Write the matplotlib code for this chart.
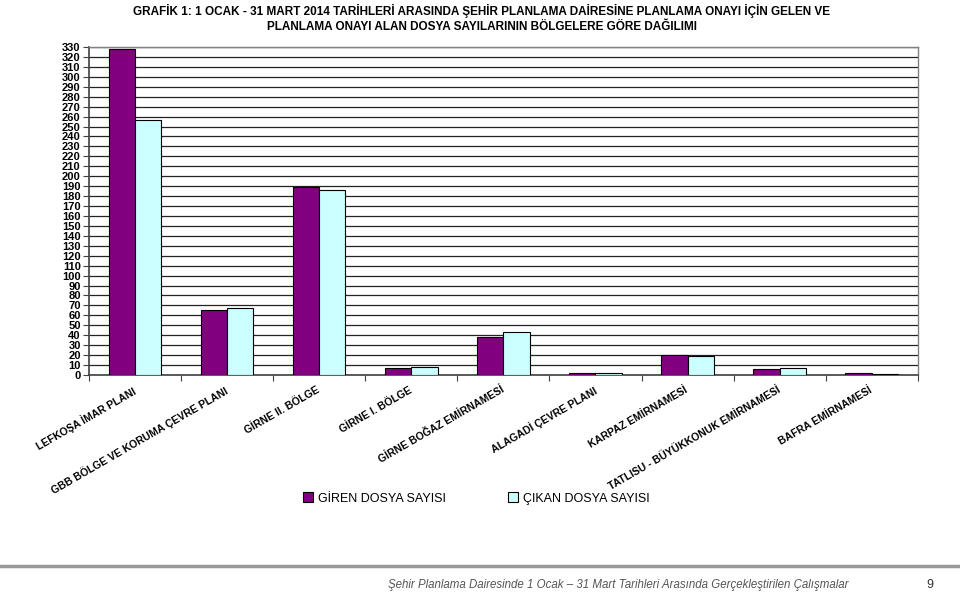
import matplotlib
matplotlib.use("Agg")
import matplotlib.pyplot as plt
import numpy as np

plt.rcParams['font.family'] = ['Liberation Sans', 'DejaVu Sans']

categories = ["LEFKOŞA İMAR PLANI", "GBB BÖLGE VE KORUMA ÇEVRE PLANI", "GİRNE II. BÖLGE",
              "GİRNE I. BÖLGE", "GİRNE BOĞAZ EMİRNAMESİ", "ALAGADİ ÇEVRE PLANI",
              "KARPAZ EMİRNAMESİ", "TATLISU - BÜYÜKKONUK EMİRNAMESİ", "BAFRA EMİRNAMESİ"]
giren = [328, 65, 189, 7, 38, 2, 20, 6, 2]
cikan = [257, 67, 186, 8, 43, 2, 19, 7, 1]
series_names = ["GİREN DOSYA SAYISI", "ÇIKAN DOSYA SAYISI"]
yticks = list(range(0, 331, 10))

fig = plt.figure(figsize=(9.6, 5.92), dpi=100)
ax = fig.add_axes([0.0927, 0.3666, 0.8633, 0.554])

x = np.arange(len(categories))
w = 0.285
ax.bar(x - w/2, giren, w, color='#800080', edgecolor='black', linewidth=0.8, zorder=3, label=series_names[0])
ax.bar(x + w/2, cikan, w, color='#CCFFFF', edgecolor='black', linewidth=0.8, zorder=3, label=series_names[1])

ax.set_xlim(-0.5, len(categories) - 0.5)
ax.set_ylim(0, 330)
ax.set_yticks(yticks)
ax.set_yticklabels([str(t) for t in yticks], fontsize=8, fontweight='bold')
ax.yaxis.grid(True, color='#222222', linewidth=0.9, zorder=0)
ax.set_axisbelow(True)

ax.set_xticks(np.arange(len(categories) + 1) - 0.5)
ax.set_xticklabels([])
ax.tick_params(axis='x', length=4, direction='out', color='#404040')
ax.tick_params(axis='y', length=4, direction='out', color='#404040', pad=2)
for i, c in enumerate(categories):
    ax.text(i - 0.03, -10, c, rotation=30, ha='right', va='top', rotation_mode='anchor',
            fontsize=7.5, fontweight='bold', transform=ax.transData)

for s in ['left', 'bottom']:
    ax.spines[s].set_color('#404040')
    ax.spines[s].set_linewidth(1.2)
for s in ['top', 'right']:
    ax.spines[s].set_color('#808080')
    ax.spines[s].set_linewidth(1.0)

fig.text(0.502, 0.993, "GRAFİK 1: 1 OCAK - 31 MART 2014 TARİHLERİ ARASINDA ŞEHİR PLANLAMA DAİRESİNE PLANLAMA ONAYI İÇİN GELEN VE\nPLANLAMA ONAYI ALAN DOSYA SAYILARININ BÖLGELERE GÖRE DAĞILIMI",
         ha='center', va='top', fontsize=8.5, fontweight='bold', linespacing=1.3)

leg = fig.legend(loc='center', bbox_to_anchor=(0.496, 0.158), ncol=2, frameon=False,
                 fontsize=9, handlelength=0.8, handleheight=0.8, columnspacing=5.0, handletextpad=0.4)

fig.add_artist(plt.Line2D([0, 1], [0.044, 0.044], color='#999999', linewidth=2.5, transform=fig.transFigure))
fig.text(0.404, 0.001, "Şehir Planlama Dairesinde 1 Ocak – 31 Mart Tarihleri Arasında Gerçekleştirilen Çalışmalar",
         ha='left', va='bottom', fontsize=8.3, style='italic', color='#555555')
fig.text(0.969, 0.001, "9", ha='center', va='bottom', fontsize=9, color='#333333')

fig.savefig("out.png", dpi=100)
